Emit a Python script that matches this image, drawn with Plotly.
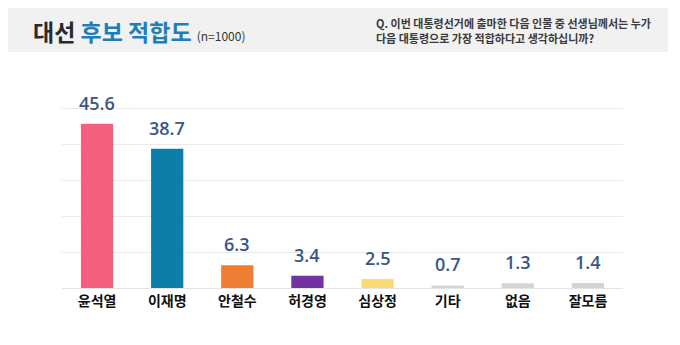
import plotly.graph_objects as go

categories = ["윤석열", "이재명", "안철수", "허경영", "심상정", "기타", "없음", "잘모름"]
values = [45.6, 38.7, 6.3, 3.4, 2.5, 0.7, 1.3, 1.4]
value_labels = ["45.6", "38.7", "6.3", "3.4", "2.5", "0.7", "1.3", "1.4"]
colors = ["#F45F80", "#0C7EA8", "#EE7E33", "#7232A0", "#FCDB75", "#D4D4D4", "#D4D4D4", "#D4D4D4"]
question_lines = ["Q. 이번 대통령선거에 출마한 다음 인물 중 선생님께서는 누가",
                  "다음 대통령으로 가장 적합하다고 생각하십니까?"]

W, H = 680, 345
L, R, T, B = 62, 57, 72, 57
pw, ph = W - L - R, H - T - B

def px(x):
    return (x - L) / pw

def py(y):
    return (H - B - y) / ph

fig = go.Figure()
fig.add_trace(go.Bar(
    x=categories, y=values, marker=dict(color=colors, line=dict(width=0)),
    width=0.46, hoverinfo="skip"))

annotations = []
for c, v, t in zip(categories, values, value_labels):
    annotations.append(dict(x=c, y=v, xref="x", yref="y", text=t, showarrow=False,
                            yanchor="bottom", yshift=7,
                            font=dict(family="Open Sans", size=18, color="#3B5683", weight=600)))

# header
annotations.append(dict(x=px(31), y=py(31), xref="paper", yref="paper", xanchor="left", yanchor="middle",
                        text="<b>대선 <span style='color:#1E7EB8'>후보 적합도</span></b>"
                             " <span style='font-size:12px;color:#333'>(n=1000)</span>",
                        showarrow=False,
                        font=dict(family="Noto Sans CJK KR", size=23, color="#2a2a2a")))
for i, line in enumerate(question_lines):
    annotations.append(dict(x=px(374), y=py(23 + 15 * i), xref="paper", yref="paper",
                            xanchor="left", yanchor="middle", text=line,
                            showarrow=False, align="left",
                            font=dict(family="Noto Sans CJK KR", size=11, color="#3a3a3a", weight=700)))

shapes = [dict(type="rect", xref="paper", yref="paper", x0=px(8), x1=px(668), y0=py(52), y1=py(8),
               fillcolor="#F1F1F1", line=dict(width=0), layer="below")]

fig.update_layout(
    width=W, height=H, margin=dict(l=L, r=R, t=T, b=B),
    paper_bgcolor="white", plot_bgcolor="white", showlegend=False,
    annotations=annotations, shapes=shapes, bargap=0.54,
    xaxis=dict(showgrid=False, showline=True, linecolor="#E4E4E4", linewidth=1,
               tickfont=dict(family="Noto Sans CJK KR", size=14, color="#111", weight=700),
               ticks="", fixedrange=True),
    yaxis=dict(range=[0, 60], dtick=10, showgrid=True, gridcolor="#EAEAEA", gridwidth=1,
               showticklabels=False, zeroline=False, fixedrange=True),
)

fig.write_html("out.html")
